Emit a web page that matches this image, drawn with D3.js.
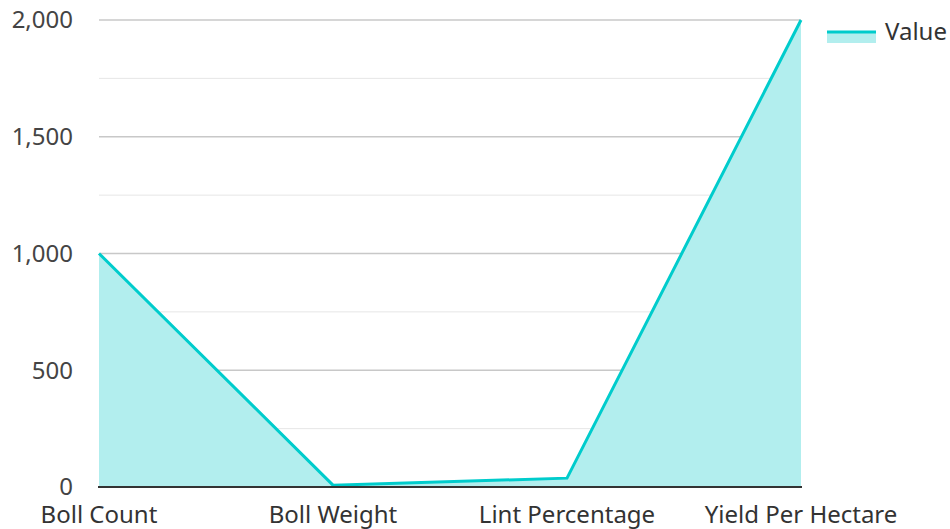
<!DOCTYPE html>
<html><head><meta charset="utf-8">
<script src="https://cdn.jsdelivr.net/npm/d3@7"></script>
<style>body{margin:0;background:#fff}svg{display:block;font-family:"Noto Sans","Open Sans",sans-serif}</style>
</head><body><svg id="c" width="950" height="529"></svg>
<script>
const categories = ["Boll Count","Boll Weight","Lint Percentage","Yield Per Hectare"];
const values = [1000, 8, 38, 2000];
const yTicks = [0,500,1000,1500,2000];
const minorTicks = [250,750,1250,1750];
const seriesName = "Value";

const svg = d3.select("#c");
const L=99,R=801,T=20,B=487;
const x = d3.scalePoint().domain(categories).range([L,R]);
const y = d3.scaleLinear().domain([0,2000]).range([B,T]);
const color="#00cccc", fill="#b2eeee";

svg.append("g").selectAll("line").data(minorTicks).join("line")
  .attr("x1",L).attr("x2",R).attr("y1",d=>y(d)).attr("y2",d=>y(d))
  .attr("stroke","#e6e6e6").attr("stroke-width",1);
svg.append("g").selectAll("line").data(yTicks.filter(d=>d>0)).join("line")
  .attr("x1",L).attr("x2",R).attr("y1",d=>y(d)).attr("y2",d=>y(d))
  .attr("stroke","#c8c8c8").attr("stroke-width",1.3);

const pts = categories.map((c,i)=>({c,v:values[i]}));
svg.append("path").datum(pts)
  .attr("d",d3.area().x(d=>x(d.c)).y0(y(0)).y1(d=>y(d.v)))
  .attr("fill",fill);
svg.append("path").datum(pts)
  .attr("d",d3.line().x(d=>x(d.c)).y(d=>y(d.v)))
  .attr("fill","none").attr("stroke",color).attr("stroke-width",3);

svg.append("line").attr("x1",L-1).attr("x2",R+1).attr("y1",B).attr("y2",B)
  .attr("stroke","#333").attr("stroke-width",2);

svg.append("g").selectAll("text").data(yTicks).join("text")
  .attr("x",73).attr("y",d=>y(d)).attr("dy","0.35em").attr("text-anchor","end")
  .attr("font-size",24).attr("fill","#444").text(d=>d3.format(",")(d));

svg.append("g").selectAll("text").data(categories).join("text")
  .attr("x",d=>x(d)).attr("y",515).attr("dy","0.35em").attr("text-anchor","middle")
  .attr("font-size",24).attr("fill","#333").text(d=>d);

const lg = svg.append("g");
lg.append("rect").attr("x",827).attr("y",31).attr("width",49).attr("height",12).attr("fill",fill);
lg.append("line").attr("x1",827).attr("x2",876).attr("y1",32).attr("y2",32).attr("stroke",color).attr("stroke-width",3);
lg.append("text").attr("x",885).attr("y",32).attr("dy","0.35em").attr("font-size",24).attr("fill","#333").text(seriesName);
</script></body></html>
